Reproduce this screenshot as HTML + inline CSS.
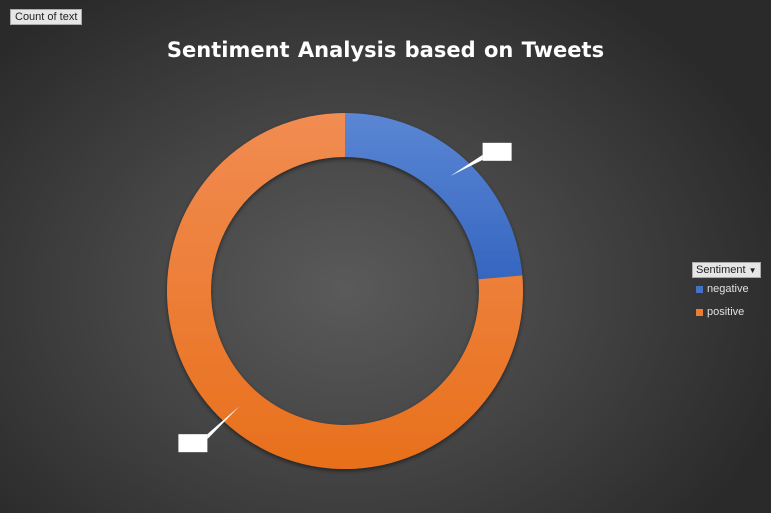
<!DOCTYPE html>
<html><head><meta charset="utf-8"><style>
html,body{margin:0;padding:0}
body{width:771px;height:513px;overflow:hidden;background:radial-gradient(ellipse 60% 70% at 345px 290px,#5a5a5a 0%,#464646 45%,#2a2a2a 100%);font-family:"Liberation Sans",sans-serif;position:relative}
#tag{position:absolute;left:10px;top:9px;background:#e6e6e6;color:#222;font-size:11px;padding:1px 4px;border:1px solid #aaa}
#title{position:absolute;left:0;width:771px;top:38px;text-align:center;color:#fff;font-size:21px;font-weight:bold;font-family:"DejaVu Sans","Liberation Sans",sans-serif;letter-spacing:0px;word-spacing:1px}
#legend{position:absolute;left:692px;top:262px;color:#e0e0e0;font-size:11px}
#lhead{background:#e6e6e6;color:#222;padding:1px 3px;border:1px solid #aaa;width:69px;white-space:nowrap;box-sizing:border-box;height:16px}
.li{margin-top:4px;margin-left:4px;height:14px;display:flex;align-items:center}
.sw{width:7px;height:7px;margin-right:4px}
</style></head><body>
<div id="tag">Count of text</div>
<div id="title">Sentiment Analysis based on Tweets</div>
<svg id="chart" width="771" height="513" style="position:absolute;left:0;top:0">
<defs>
<linearGradient id="gb" x1="0" y1="0" x2="0" y2="1"><stop offset="0" stop-color="#5b86d4"/><stop offset="1" stop-color="#3566c0"/></linearGradient>
<linearGradient id="go" x1="0" y1="0" x2="0" y2="1"><stop offset="0" stop-color="#f18c52"/><stop offset="1" stop-color="#e8701c"/></linearGradient>
<filter id="sh"><feDropShadow dx="0" dy="2" stdDeviation="2" flood-color="#000" flood-opacity="0.5"/></filter>
</defs>
<g id="slices" filter="url(#sh)"></g>
<g id="labels"></g>
</svg>
<div id="legend">
<div id="lhead">Sentiment <span style="font-size:8px">&#9660;</span></div>
<div class="li"><div class="sw" style="background:#4472c4"></div>negative</div>
<div class="li" style="margin-top:9px"><div class="sw" style="background:#ed7d31"></div>positive</div>
</div>
<script>
const categories=["negative","positive"];
const values=[236,764];
const fills=["url(#gb)","url(#go)"];
const cx=345,cy=291,ro=178,ri=134;
const total=values.reduce((a,b)=>a+b,0);
const ns="http://www.w3.org/2000/svg";
const g=document.getElementById('slices'),lg=document.getElementById('labels');
function pt(a,r){return [cx+r*Math.sin(a),cy-r*Math.cos(a)];}
let start=0;
values.forEach((v,i)=>{
  const end=start+v/total*2*Math.PI;
  const large=(end-start)>Math.PI?1:0;
  const [x1,y1]=pt(start,ro),[x2,y2]=pt(end,ro),[x3,y3]=pt(end,ri),[x4,y4]=pt(start,ri);
  const p=document.createElementNS(ns,'path');
  p.setAttribute('d',`M${x1},${y1}A${ro},${ro} 0 ${large} 1 ${x2},${y2}L${x3},${y3}A${ri},${ri} 0 ${large} 0 ${x4},${y4}Z`);
  p.setAttribute('fill',fills[i]);
  
  
  g.appendChild(p);
  const mid=(start+end)/2;
  const [lx,ly]=pt(mid,(ro+ri)/2);
  const [bx,by]=pt(mid,ro+8);
  const dir=Math.sin(mid)>=0?1:-1;
  const rx=dir>0?bx+12:bx-41, ry=dir>0?by-11:by+6;
  const ex=dir>0?rx:rx+29, ey=dir>0?ry+15:ry+3;
  const ln=document.createElementNS(ns,'polygon');
  ln.setAttribute('points',`${lx},${ly} ${ex},${ey-3} ${ex},${ey+2}`);
  ln.setAttribute('fill','#fff');
  
  
  lg.appendChild(ln);
  const r=document.createElementNS(ns,'rect');
  r.setAttribute('x',rx);r.setAttribute('y',ry);
  r.setAttribute('width',29);r.setAttribute('height',18);r.setAttribute('fill','#fff');
  
  
  lg.appendChild(r);
  start=end;
});
</script>
</body></html>
